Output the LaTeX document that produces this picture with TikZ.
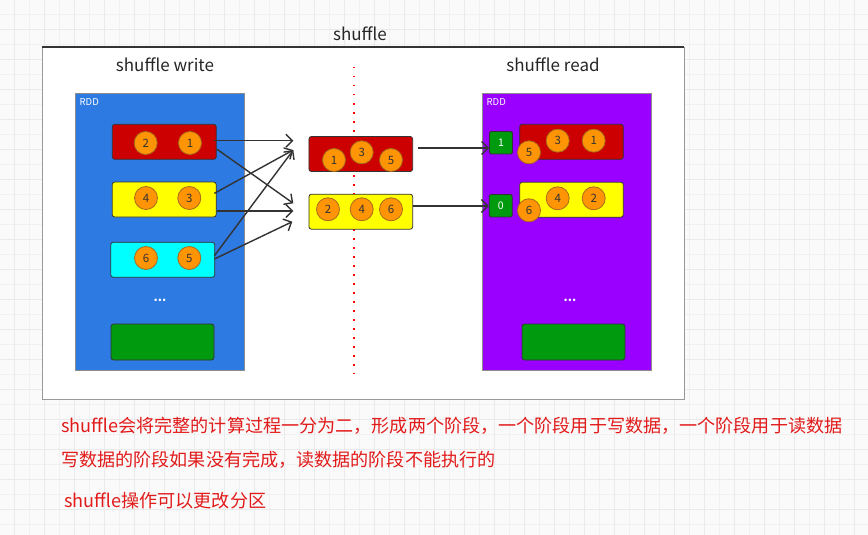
\documentclass[tikz,border=0pt]{standalone}
\usepackage{fontspec}
\setmainfont{Noto Sans CJK SC}
\usetikzlibrary{arrows.meta,calc}
\definecolor{bgc}{HTML}{FAFAFA}
\definecolor{gridminor}{HTML}{F1F1F1}
\definecolor{gridmajor}{HTML}{EAEAEA}
\definecolor{rddblue}{HTML}{2D7AE2}
\definecolor{rddpurple}{HTML}{9900FF}
\definecolor{pred}{HTML}{CC0000}
\definecolor{pyellow}{HTML}{FFFF00}
\definecolor{pcyan}{HTML}{00FFFF}
\definecolor{pgreen}{HTML}{009A0E}
\definecolor{ballfill}{HTML}{FF9405}
\definecolor{balldraw}{HTML}{A86A1C}
\definecolor{edge}{HTML}{333333}
\definecolor{txtred}{HTML}{E21B1B}
\tikzset{
  part/.style={draw=edge, rounded corners=2.5pt, line width=0.8pt,
    minimum width=104pt, minimum height=35pt, inner sep=0pt},
  ball/.style={circle, draw=balldraw, fill=ballfill, line width=0.8pt,
    minimum size=23pt, inner sep=0pt, text=edge,
    font=\fontsize{11.5}{11.5}\selectfont},
  idbox/.style={draw=edge, fill=pgreen, rounded corners=1.5pt, line width=0.8pt,
    minimum width=23pt, minimum height=22.5pt, inner sep=0pt, text=white,
    font=\fontsize{10.5}{10.5}\selectfont},
  rddbox/.style={draw=black!45, line width=0.8pt, minimum width=169pt,
    minimum height=277pt, inner sep=0pt},
  arr/.style={draw=edge, line width=1.4pt,
    -{Straight Barb[length=6.5pt,width=13pt,line width=1.4pt]}},
  titletxt/.style={text=black!85, font=\fontsize{17}{20}\selectfont, inner sep=0pt},
  notetxt/.style={text=txtred, font=\fontsize{18.1}{22}\selectfont, inner sep=0pt, anchor=west},
  smalltxt/.style={text=white, font=\fontsize{9.5}{9.5}\selectfont, inner sep=0pt, anchor=west},
  dotstxt/.style={text=white, font=\bfseries\fontsize{12}{12}\selectfont, inner sep=0pt}
}
\begin{document}
\begin{tikzpicture}[x=1pt,y=-1pt]
\useasboundingbox (0,0) rectangle (868,535);
% background grid
\fill[bgc] (0,0) rectangle (868,535);
\foreach \k in {0,...,58} {
  \draw[gridminor, line width=1pt] ({15*\k-0.7},0) -- ({15*\k-0.7},535);
}
\foreach \k in {0,...,36} {
  \draw[gridminor, line width=1pt] (0,{15*\k-0.7}) -- (868,{15*\k-0.7});
}
\foreach \k in {1,3,...,57} {
  \draw[gridmajor, line width=1pt] ({15*\k-0.7},0) -- ({15*\k-0.7},535);
}
\foreach \k in {0,2,...,36} {
  \draw[gridmajor, line width=1pt] (0,{15*\k-0.7}) -- (868,{15*\k-0.7});
}
% frame
\node[draw=black!40, fill=white, line width=0.8pt, minimum width=642pt, minimum height=351.5pt,
  inner sep=0pt] (frame) at (363,223.25) {};
\draw[edge, line width=1.3pt] (frame.north west) -- (frame.north east);
% titles
\node[titletxt] (tshuffle) at (360,34) {shuffle};
\node[titletxt] (twrite) at (165,65) {shuffle write};
\node[titletxt] (tread) at (553,65) {shuffle read};
% dotted separator
\coordinate (sepTop) at (354,67);
\coordinate (sepBot) at (354,374);
\draw[red, line width=1.4pt, dash pattern=on 1.5pt off 7.5pt] (sepTop) -- (sepBot);
% RDD containers
\node[rddbox, fill=rddblue] (rddL) at (159.5,231.5) {};
\node[rddbox, fill=rddpurple] (rddR) at (567,231.5) {};
\node[smalltxt] (rddLlab) at (79.5,102) {RDD};
\node[smalltxt] (rddRlab) at (486.5,102) {RDD};
% left partitions
\node[part, fill=pred] (lr) at (164.3,141.8) {};
\node[part, fill=pyellow] (ly) at (164.2,199.5) {};
\node[part, fill=pcyan] (lc) at (162.7,259.8) {};
\node[part, fill=pgreen, minimum width=103pt, minimum height=36pt] (lg) at (162.5,342) {};
\node[dotstxt] (ldots) at (160,300) {...};
\node[ball] (lr2) at (145.7,143) {2};
\node[ball] (lr1) at (190,143) {1};
\node[ball] (ly4) at (146,198) {4};
\node[ball] (ly3) at (189.3,198) {3};
\node[ball] (lc6) at (146,258) {6};
\node[ball] (lc5) at (189.3,258) {5};
% middle partitions
\node[part, fill=pred, minimum width=103.7pt] (mr) at (360.8,154) {};
\node[part, fill=pyellow, minimum width=103.7pt] (my) at (360.8,211.7) {};
\node[ball] (mr1) at (334,160) {1};
\node[ball] (mr3) at (361.7,152.3) {3};
\node[ball] (mr5) at (391,160) {5};
\node[ball] (my2) at (328,209.3) {2};
\node[ball] (my4) at (361.7,209.3) {4};
\node[ball] (my6) at (391,209.3) {6};
% right partitions
\node[part, fill=pred, minimum width=103.6pt] (rr) at (571.5,141.8) {};
\node[part, fill=pyellow, minimum width=103.6pt] (ry) at (571.5,199.7) {};
\node[part, fill=pgreen, minimum width=103pt, minimum height=36pt] (rg) at (573.5,342) {};
\node[dotstxt] (rdots) at (570,300) {...};
\node[idbox] (g1) at (501,142.7) {1};
\node[idbox] (g0) at (500.7,205.7) {0};
\node[ball] (rr3) at (557.7,140.7) {3};
\node[ball] (rr1) at (593.7,140.7) {1};
\node[ball] (rr5) at (529,152.3) {5};
\node[ball] (ry4) at (557.7,198.3) {4};
\node[ball] (ry2) at (593.7,198.3) {2};
\node[ball] (ry6) at (529,210.3) {6};
% shuffle write arrows (free ends)
\coordinate (tA) at (293.3,140.7);
\coordinate (tB) at (293.3,150);
\coordinate (tC) at (293.3,203.3);
\coordinate (tD) at (293.3,211);
\coordinate (tE) at (292.3,221.7);
\draw[arr] ([xshift=-3pt,yshift=1.1pt]lr.east) -- (tA);
\draw[arr] ([xshift=0.4pt,yshift=-7.5pt]lr.east) -- (tC);
\draw[arr] ([xshift=-2.2pt,yshift=6.2pt]ly.east) -- (tB);
\draw[arr] ([xshift=0.5pt,yshift=-11.5pt]ly.east) -- (tD);
\draw[arr] ([xshift=-0.7pt,yshift=4.1pt]lc.east) -- (tB);
\draw[arr] ([xshift=-0.7pt,yshift=0.8pt]lc.east) -- (tE);
% shuffle read arrows
\coordinate (a1) at ([xshift=4.6pt,yshift=6pt]mr.east);
\coordinate (a0) at ([yshift=5.7pt]my.east);
\draw[arr] (a1) -- (a1 -| g1.west);
\draw[arr] (a0) -- (a0 -| g0.west);
% notes
\node[notetxt] (n1) at (61,426) {shuffle会将完整的计算过程一分为二，形成两个阶段，一个阶段用于写数据，一个阶段用于读数据};
\node[notetxt] (n2) at (61,460) {写数据的阶段如果没有完成，读数据的阶段不能执行的};
\node[notetxt] (n3) at (64,500.7) {shuffle操作可以更改分区};
\end{tikzpicture}
\end{document}
